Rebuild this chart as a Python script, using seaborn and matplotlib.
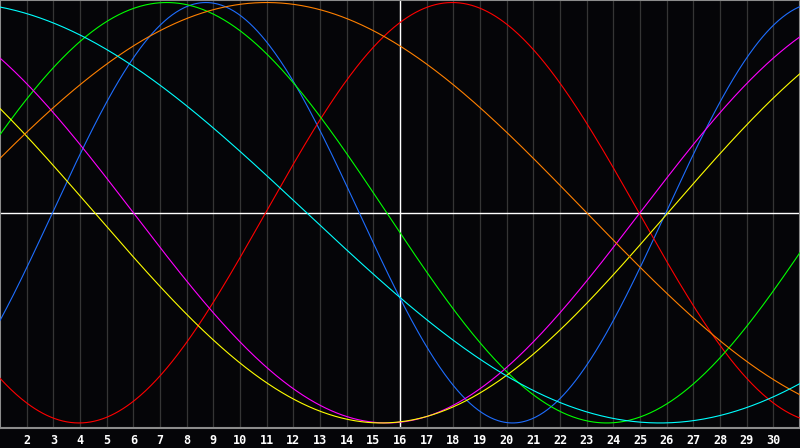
"""
Biorhythm chart for one month: seven cycles over days 1-31,
with the current day (16) marked by a white vertical line.
"""

import matplotlib
matplotlib.use("Agg")

import matplotlib.pyplot as plt
import numpy as np
import pandas as pd
import seaborn as sns

# cycles: name, period (days), day of the peak
CYCLES = ["physical", "emotional", "intellectual", "intuitive",
          "aesthetic", "awareness", "spiritual"]
PERIODS = [23, 28, 33, 38, 43, 48, 53]
PEAK_DAYS = [8.72, 17.96, 7.25, 34.5, 36.8, 11.0, -0.75]
COLORS = ["#1e6eff", "#ff0000", "#00ff00", "#ff00ff",
          "#ffff00", "#ff8000", "#00ffff"]

DAY_FIRST, DAY_LAST = 1, 31
DAY_LABELS = list(range(2, 31))
TODAY = 16

BG = "#050508"
GRID = "#353535"
BORDER = "#8c8c8c"


def build_frame() -> pd.DataFrame:
    days = np.linspace(DAY_FIRST, DAY_LAST, 600)
    rows = []
    for name, period, peak in zip(CYCLES, PERIODS, PEAK_DAYS):
        # a biorhythm cycle is a cosine with its period and peak day
        vals = np.cos(2 * np.pi * (days - peak) / period)
        rows.append(pd.DataFrame({"day": days, "value": vals, "cycle": name}))
    return pd.concat(rows, ignore_index=True)


def main() -> None:
    df = build_frame()

    sns.set_style("dark")
    fig = plt.figure(figsize=(8, 4.48), dpi=100, facecolor=BG)
    ax = fig.add_axes([0, 20 / 448, 1, 428 / 448])
    ax.set_facecolor(BG)

    # day grid
    for d in range(DAY_FIRST + 1, DAY_LAST):
        ax.axvline(d, color=GRID, lw=0.9, zorder=1)

    sns.lineplot(
        data=df, x="day", y="value", hue="cycle",
        hue_order=CYCLES, palette=COLORS,
        lw=0.8, legend=False, ax=ax, zorder=3,
    )

    ax.axhline(0, color="white", lw=1.0, zorder=2)
    ax.axvline(TODAY, color="white", lw=1.0, zorder=2)

    ax.set_xlim(DAY_FIRST, DAY_LAST)
    ax.set_ylim(-1.024, 1.012)
    ax.set_xticks(DAY_LABELS)
    ax.set_xticklabels([str(d) for d in DAY_LABELS])
    ax.set_yticks([])
    ax.set_xlabel("")
    ax.set_ylabel("")
    ax.tick_params(axis="x", length=0, pad=4, colors="white")
    for lab in ax.get_xticklabels():
        lab.set_fontfamily("DejaVu Sans Mono")
        lab.set_fontweight("bold")
        lab.set_fontsize(8.5)
        lab.set_color("white")

    for side in ("top", "left", "bottom", "right"):
        ax.spines[side].set_visible(True)
        ax.spines[side].set_color(BORDER)
        ax.spines[side].set_linewidth(1.5)

    fig.savefig("out.png", dpi=100, facecolor=BG)


if __name__ == "__main__":
    main()
